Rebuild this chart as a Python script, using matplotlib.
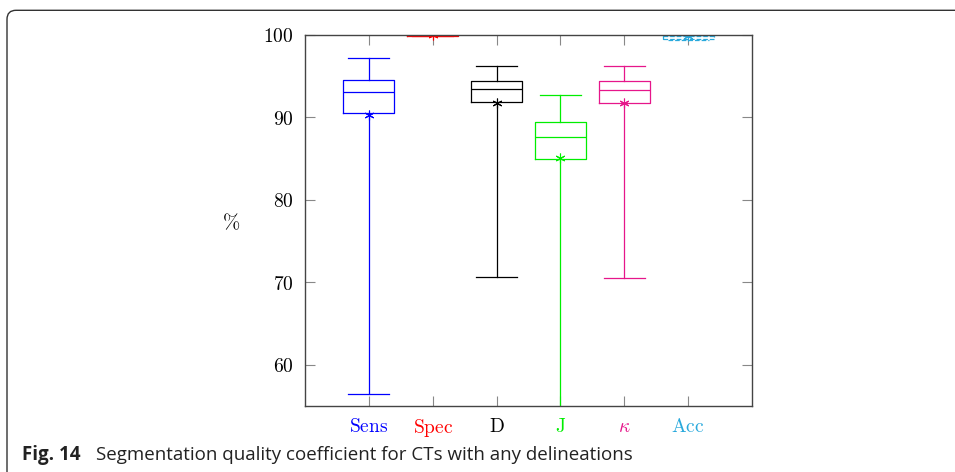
import matplotlib
matplotlib.use("Agg")
import matplotlib.pyplot as plt
from matplotlib.patches import FancyBboxPatch

plt.rcParams['mathtext.fontset'] = 'cm'

# box statistics (in %)
labels = [r'$\mathrm{Sens}$', r'$\mathrm{Spec}$', r'$\mathrm{D}$', r'$\mathrm{J}$', r'$\kappa$', r'$\mathrm{Acc}$']
colors = ['#0000ff', '#ff0000', '#000000', '#00ee00', '#e6168a', '#29a9dc']
whislo = [56.5, 99.85, 70.6, 50.0, 70.5, 99.45]
q1 = [90.5, 99.85, 91.9, 85.0, 91.8, 99.55]
med = [93.1, 99.95, 93.4, 87.6, 93.35, 99.85]
q3 = [94.5, 100.0, 94.4, 89.4, 94.4, 99.95]
whishi = [97.25, 100.0, 96.2, 92.7, 96.2, 100.0]
means = [90.3, 99.95, 91.8, 85.1, 91.7, 99.9]
ytick_vals = [60, 70, 80, 90, 100]

fig = plt.figure(figsize=(9.55, 4.72), dpi=100)
ax = fig.add_axes([305 / 955, 1 - 406 / 472, 447 / 955, 371 / 472])

stats = []
for i in range(len(labels)):
    stats.append(dict(whislo=whislo[i], q1=q1[i], med=med[i], q3=q3[i],
                      whishi=whishi[i], mean=means[i], fliers=[]))

pos = list(range(1, len(labels) + 1))
for i, st in enumerate(stats):
    c = colors[i]
    ls = '--' if i == len(labels) - 1 else '-'
    lp = dict(color=c, linewidth=0.9, linestyle=ls)
    ax.bxp([st], positions=[pos[i]], widths=0.8, capwidths=0.64,
           showmeans=True, showfliers=False,
           boxprops=lp, whiskerprops=lp, capprops=lp, medianprops=lp,
           meanprops=dict(marker=(6, 2, 0), markersize=7, markeredgecolor=c,
                          markerfacecolor=c, markeredgewidth=0.8, linestyle='none'))

ax.set_xlim(0, 7)
ax.set_ylim(55, 100)
ax.set_xticks(pos)
ax.set_xticklabels(labels, fontsize=14)
for t, c in zip(ax.get_xticklabels(), colors):
    t.set_color(c)
ax.set_yticks(ytick_vals)
ax.set_yticklabels([r'$%d$' % v for v in ytick_vals], fontsize=14)

ax.tick_params(direction='in', length=7, width=0.8, color='#888888',
               top=True, right=True, pad=8)
for s in ax.spines.values():
    s.set_color('#444444')
    s.set_linewidth(1.0)

fig.text(231 / 955, 1 - 223 / 472, r'$\%$', fontsize=15, ha='center', va='center')

# caption
fig.text(22 / 955, 1 - 455 / 472, 'Fig. 14', fontsize=13.5, fontweight='bold',
         family='Open Sans', va='center', color='#222222')
fig.text(96 / 955, 1 - 455 / 472, 'Segmentation quality coefficient for CTs with any delineations',
         fontsize=13.5, family='Open Sans', va='center', color='#222222')

# rounded frame that runs off the right and bottom edges
frame = FancyBboxPatch((0.07, -1.0), 12.0, 4.72 - 0.103 + 1.0,
                       boxstyle='round,pad=0,rounding_size=0.09',
                       transform=fig.dpi_scale_trans, fill=False,
                       edgecolor='#333333', linewidth=1.0)
fig.patches.append(frame)

fig.savefig('out.png', dpi=100)
